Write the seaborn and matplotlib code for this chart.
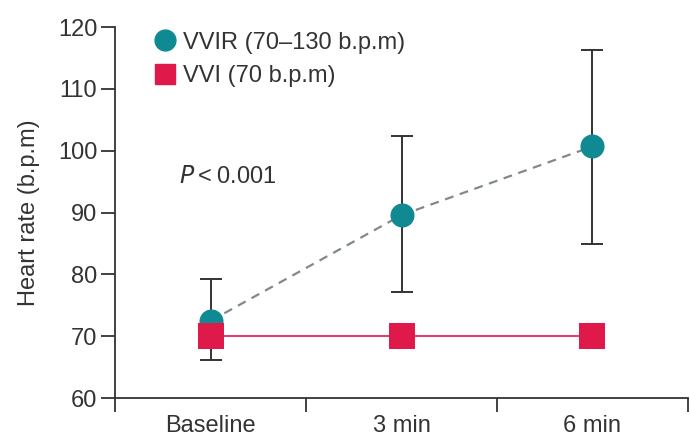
import matplotlib
matplotlib.use("Agg")
import matplotlib.pyplot as plt
from matplotlib.lines import Line2D
import seaborn as sns
import pandas as pd

# Time points and mean heart rates (b.p.m)
timepoints = ["Baseline", "3 min", "6 min"]
vvir_mean = [72.5, 89.6, 100.7]
vvir_upper = [79.2, 102.4, 116.3]
vvir_lower = [66.2, 77.1, 85.0]
vvi_mean = [70, 70, 70]

vvir_label = "VVIR (70–130 b.p.m)"
vvi_label = "VVI (70 b.p.m)"
y_ticks = [60, 70, 80, 90, 100, 110, 120]

teal = "#0f8a92"
crimson = "#e0194b"
ink = "#333333"
fs = 17

sns.set_style("ticks")
plt.rcParams["font.family"] = ["Liberation Sans", "DejaVu Sans"]

fig = plt.figure(figsize=(6.9, 4.37), dpi=100)
ax = fig.add_axes([0.167, 0.089, 0.83, 0.849])

df = pd.DataFrame({
    "time": timepoints * 2,
    "rate": vvir_mean + vvi_mean,
    "mode": [vvir_label] * 3 + [vvi_label] * 3,
})
pos = {t: i for i, t in enumerate(timepoints)}
df["x"] = df["time"].map(pos)

# Error bars for the rate-responsive mode
xs = [pos[t] for t in timepoints]
err_low = [m - lo for m, lo in zip(vvir_mean, vvir_lower)]
err_high = [hi - m for m, hi in zip(vvir_mean, vvir_upper)]
ax.errorbar(xs, vvir_mean, yerr=[err_low, err_high], fmt="none",
            ecolor=ink, elinewidth=1.4, capsize=8, capthick=1.4, zorder=1)

vvir = df[df["mode"] == vvir_label]
vvi = df[df["mode"] == vvi_label]

sns.lineplot(data=vvir, x="x", y="rate", ax=ax, color="#808a8a",
             linestyle=(0, (4, 3)), linewidth=1.6, zorder=2)
sns.scatterplot(data=vvir, x="x", y="rate", ax=ax, color=teal, marker="o",
                s=300, linewidth=0, zorder=3)
sns.lineplot(data=vvi, x="x", y="rate", ax=ax, color=crimson,
             linewidth=1.2, zorder=4)
sns.scatterplot(data=vvi, x="x", y="rate", ax=ax, color=crimson, marker="s",
                s=330, linewidth=0, zorder=5)

ax.set_xlim(-0.5, 2.5)
ax.set_ylim(60, 120)
ax.set_yticks(y_ticks)
ax.set_xticks(xs)
ax.set_xticklabels(timepoints)
ax.set_xticks([-0.5, 0.5, 1.5, 2.5], minor=True)
ax.tick_params(axis="x", which="major", length=0, labelsize=fs, pad=12,
               labelcolor=ink)
ax.tick_params(axis="x", which="minor", length=10, width=1.3, color=ink)
ax.tick_params(axis="y", length=10, width=1.3, labelsize=fs, pad=3,
               color=ink, labelcolor=ink)
ax.set_xlabel("")
ax.set_ylabel("Heart rate (b.p.m)", fontsize=fs, color=ink, labelpad=13)
for side in ("left", "bottom"):
    ax.spines[side].set_linewidth(1.3)
    ax.spines[side].set_color(ink)
sns.despine(ax=ax)

# Legend
handles = [
    Line2D([], [], marker="o", linestyle="none", color=teal, markersize=15),
    Line2D([], [], marker="s", linestyle="none", color=crimson, markersize=15),
]
ax.legend(handles, [vvir_label, vvi_label], loc="upper left",
          bbox_to_anchor=(0.025, 1.045), frameon=False, fontsize=fs,
          handletextpad=0.15, labelspacing=0.5, handlelength=1.2,
          labelcolor=ink)

ax.text(0.112, 0.597, "$\\it{P}$" + "\u2009<\u20090.001", transform=ax.transAxes,
        fontsize=fs, color=ink, va="center", ha="left")

fig.savefig("out.png", dpi=100)
